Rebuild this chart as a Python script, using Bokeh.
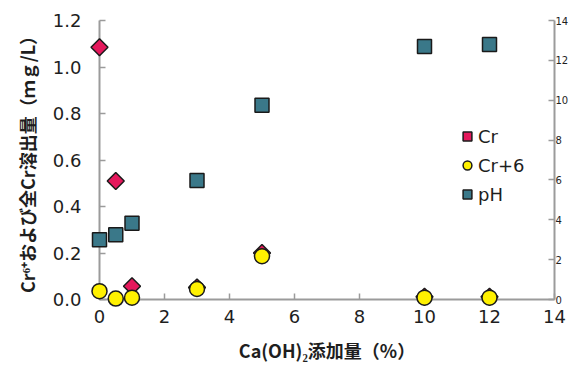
import math
from bokeh.plotting import figure
from bokeh.models import Range1d, LinearAxis, Legend, LegendItem, FixedTicker, NumeralTickFormatter
from bokeh.embed import file_html
from bokeh.resources import INLINE

# ---- data ----
x_pct = [0, 0.5, 1, 3, 5, 10, 12]
cr_total = [1.085, 0.51, 0.057, 0.052, 0.20, 0.012, 0.012]
cr6 = [0.036, 0.004, 0.008, 0.045, 0.186, 0.008, 0.008]
ph = [3.0, 3.25, 3.83, 5.97, 9.75, 12.7, 12.8]

x_ticks = [0, 2, 4, 6, 8, 10, 12, 14]
y_ticks = [0.0, 0.2, 0.4, 0.6, 0.8, 1.0, 1.2]
ph_ticks = [0, 2, 4, 6, 8, 10, 12, 14]

series_names = ["Cr", "Cr+6", "pH"]
x_title = "Ca(OH)₂添加量（%）"
y_title = "Cr⁶⁺および全Cr溶出量（ｍｇ/L）"

AX = "#9b9b9b"
TXT = "#1e1e1e"
FONT = "DejaVu Sans"
JFONT = "Noto Sans CJK JP"

p = figure(width=571, height=365, output_backend="svg", toolbar_location=None,
           x_range=Range1d(0, 14), y_range=Range1d(0, 1.2),
           min_border_left=99, min_border_right=0, min_border_top=20, min_border_bottom=65)
p.outline_line_color = None
p.xgrid.visible = False
p.ygrid.visible = False
p.background_fill_color = "white"
p.border_fill_color = "white"

p.extra_y_ranges = {"ph": Range1d(0, 14)}

def style_axis(ax, size="18px"):
    ax.axis_line_color = AX
    ax.axis_line_width = 2
    ax.major_tick_line_color = AX
    ax.major_tick_line_width = 1.5
    ax.major_tick_in = 6
    ax.major_tick_out = 0
    ax.minor_tick_line_color = None
    ax.major_label_text_font = FONT
    ax.major_label_text_font_size = size
    ax.major_label_text_color = TXT
    ax.axis_label_text_font = JFONT
    ax.axis_label_text_font_style = "bold"
    ax.axis_label_text_font_size = "18px"
    ax.axis_label_text_color = TXT

xa = p.xaxis[0]
style_axis(xa)
xa.ticker = FixedTicker(ticks=x_ticks)
xa.major_label_standoff = 10
xa.axis_label = x_title
xa.axis_label_standoff = 11

ya = p.yaxis[0]
style_axis(ya)
ya.ticker = FixedTicker(ticks=y_ticks)
ya.formatter = NumeralTickFormatter(format="0.0")
ya.major_label_standoff = 18
ya.axis_label = y_title
ya.axis_label_standoff = 10

ra = LinearAxis(y_range_name="ph", ticker=FixedTicker(ticks=ph_ticks))
style_axis(ra, size="10px")
ra.major_label_standoff = 1
p.add_layout(ra, "right")

OUT = "#1a1a1a"
r_cr = p.scatter(x_pct, cr_total, marker="square", angle=math.pi / 4, size=12,
                 fill_color="#e5185c", line_color=OUT, line_width=1.5, level="overlay")
r_cr6 = p.scatter(x_pct, cr6, marker="circle", size=15,
                  fill_color="#fff100", line_color=OUT, line_width=1.5, level="overlay")
r_ph = p.scatter(x_pct, ph, marker="square", size=14, y_range_name="ph",
                 fill_color="#3a7889", line_color=OUT, line_width=1.5, level="overlay")

legend = Legend(items=[LegendItem(label=series_names[0], renderers=[r_cr]),
                       LegendItem(label=series_names[1], renderers=[r_cr6]),
                       LegendItem(label=series_names[2], renderers=[r_ph])],
                location=(357, 94))
legend.border_line_color = None
legend.background_fill_alpha = 0
legend.label_text_font = FONT
legend.label_text_font_size = "18px"
legend.label_text_color = TXT
legend.glyph_width = 22
legend.glyph_height = 22
legend.label_height = 20
legend.spacing = 7
legend.padding = 0
legend.margin = 0
legend.label_standoff = 0
p.add_layout(legend)

open("out.html", "w").write(file_html(p, INLINE))
